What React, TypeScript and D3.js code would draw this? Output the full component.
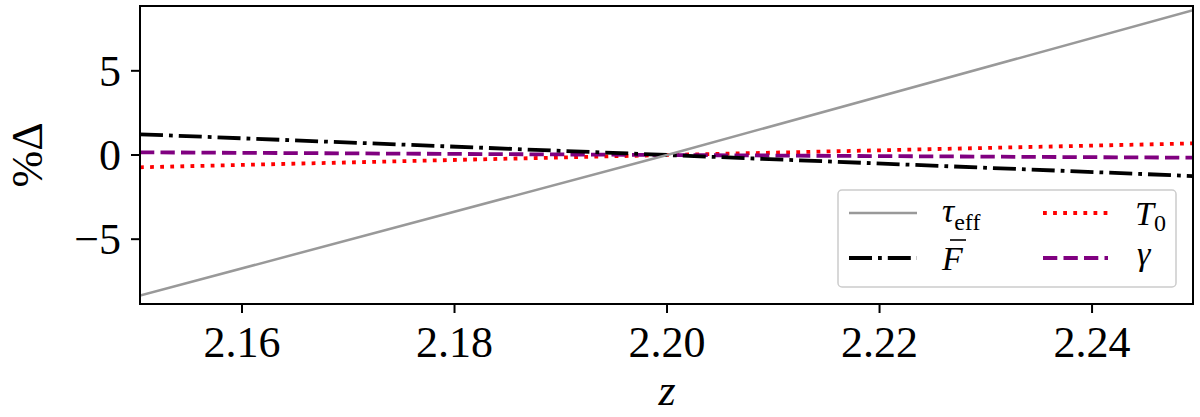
import React from "react";
import * as d3 from "d3";

const zPoints = [2.1504, 2.2, 2.2495];
const tauEff = [-8.35, 0, 8.6];
const fBar = [1.23, 0, -1.25];
const t0 = [-0.73, 0, 0.69];
const gammaVals = [0.16, 0, -0.16];
const xTicks = [2.16, 2.18, 2.2, 2.22, 2.24];
const yTicks = [-5, 0, 5];

const W = 1200, H = 417;
const L = 140, R = 1193, T = 6, B = 304;
const FONT = '"Liberation Serif", "DejaVu Serif", serif';

export default function App() {
  const x = d3.scaleLinear().domain([2.1504, 2.2495]).range([L, R]);
  const y = d3.scaleLinear().domain([-8.85, 8.85]).range([B, T]);
  const line = d3.line<[number, number]>().x(d => x(d[0])).y(d => y(d[1]));
  const mk = (v: number[]) => line(zPoints.map((z, i) => [z, v[i]] as [number, number])) || "";
  const series = [
    { v: t0, color: "#ff0000", w: 3.8, dash: "3.8 6.3" },
    { v: gammaVals, color: "#800080", w: 3.8, dash: "14.3 6.2" },
    { v: fBar, color: "#000000", w: 3.8, dash: "23 6 3.8 6" },
    { v: tauEff, color: "#999999", w: 2.5, dash: "" },
  ];
  const tx = { fontFamily: FONT } as React.CSSProperties;
  return (
    <svg width={W} height={H} style={{ display: "block", position: "absolute", left: 0, top: 0 }}>
      <rect x={0} y={0} width={W} height={H} fill="#fff" />
      <defs>
        <clipPath id="plotclip"><rect x={L} y={T} width={R - L} height={B - T} /></clipPath>
      </defs>
      <g clipPath="url(#plotclip)">
        {series.map((s, i) => (
          <path key={i} d={mk(s.v)} fill="none" stroke={s.color} strokeWidth={s.w} strokeDasharray={s.dash || undefined} />
        ))}
      </g>
      {/* legend */}
      <rect x={838} y={190} width={338} height={97} rx={4} fill="#fff" fillOpacity={0.8} stroke="#cccccc" strokeWidth={1.5} />
      <line x1={849} x2={917} y1={213} y2={213} stroke="#999999" strokeWidth={2.5} />
      <text x={942} y={222} style={tx} fontSize={34} fontStyle="italic">τ<tspan fontStyle="normal" fontSize={24} dy={8}>eff</tspan></text>
      <line x1={849} x2={917} y1={258} y2={258} stroke="#000" strokeWidth={3.8} strokeDasharray="23 6 3.8 6" />
      <text x={942} y={270} style={tx} fontSize={34} fontStyle="italic">F</text>
      <line x1={950} x2={966} y1={240} y2={240} stroke="#000" strokeWidth={1.6} />
      <line x1={1043} x2={1108} y1={213} y2={213} stroke="#ff0000" strokeWidth={3.8} strokeDasharray="3.8 6.3" />
      <text x={1135} y={225} style={tx} fontSize={34} fontStyle="italic">T<tspan fontStyle="normal" fontSize={24} dy={6}>0</tspan></text>
      <line x1={1043} x2={1108} y1={258} y2={258} stroke="#800080" strokeWidth={3.8} strokeDasharray="14.3 6.2" />
      <text x={1137} y={265} style={tx} fontSize={34} fontStyle="italic">γ</text>
      {/* frame */}
      <rect x={L} y={T} width={R - L} height={B - T} fill="none" stroke="#000" strokeWidth={2} />
      {xTicks.map(t => (
        <g key={t}>
          <line x1={x(t)} x2={x(t)} y1={B} y2={B + 9} stroke="#000" strokeWidth={2} />
          <text x={x(t)} y={357} textAnchor="middle" style={tx} fontSize={44}>{t.toFixed(2)}</text>
        </g>
      ))}
      {yTicks.map(t => (
        <g key={t}>
          <line x1={L - 9} x2={L} y1={y(t)} y2={y(t)} stroke="#000" strokeWidth={2} />
          <text x={121} y={y(t) + 15} textAnchor="end" style={tx} fontSize={44}>{t < 0 ? "\u2212" + Math.abs(t) : String(t)}</text>
        </g>
      ))}
      <text x={667} y={405} textAnchor="middle" style={tx} fontSize={44} fontStyle="italic">z</text>
      <text transform={`translate(42,${(T + B) / 2}) rotate(-90)`} textAnchor="middle" style={tx} fontSize={44}>%Δ</text>
    </svg>
  );
}
